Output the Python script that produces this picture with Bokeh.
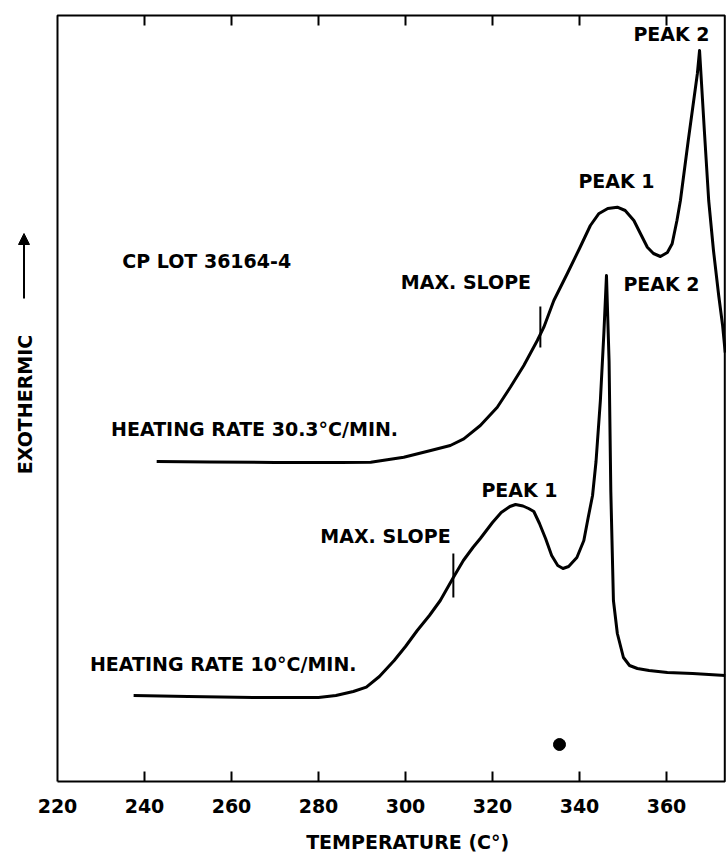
import math
from bokeh.plotting import figure
from bokeh.models import Range1d, Arrow, NormalHead
from bokeh.core.properties import value
from bokeh.embed import file_html
from bokeh.resources import INLINE

# ---------------- data (temperature in deg C, exotherm in arbitrary units) -------------
temp_30 = [242.8, 255.0, 270.0, 285.0, 292.0, 299.6, 305.8, 310.3, 313.4, 317.2, 321.1,
           324.1, 327.2, 330.3, 331.8, 334.1, 337.2, 340.0, 342.5, 344.4, 346.5, 348.7,
           350.5, 352.5, 354.0, 355.6, 357.0, 358.6, 360.2, 361.3, 362.4, 363.2, 365.0,
           367.1, 367.6, 368.7, 369.7, 370.8, 372.0, 372.9, 373.5]
signal_30 = [320, 319.5, 319, 319, 319.3, 324.3, 331, 336, 342.7, 356, 374.3,
             394.3, 416, 441, 454.3, 481, 508, 533, 556, 567.7, 573, 574.3,
             571, 561, 548, 534.3, 528, 525, 529, 537.7, 561, 581, 641,
             708, 731, 651, 581, 531, 486, 456, 429]

temp_10 = [237.5, 250.0, 265.0, 280.0, 284.0, 288.0, 291.0, 294.0, 297.4, 300.0, 302.7,
           305.5, 308.0, 311.0, 313.3, 315.5, 317.2, 320.0, 322.0, 324.0, 325.3, 327.0,
           328.3, 329.5, 330.8, 332.2, 333.6, 335.0, 336.2, 337.5, 339.4, 341.0, 342.0,
           343.0, 343.8, 344.8, 345.6, 346.2, 346.8, 347.2, 347.8, 348.7, 350.1, 351.5,
           353.3, 356.0, 360.2, 366.0, 373.5]
signal_10 = [86, 85, 84, 84, 86, 90, 94.3, 105, 121, 135, 151,
             166, 181, 204, 221, 234, 243, 259, 269, 275, 277, 275.5,
             273, 270, 258, 243, 226, 216, 213, 215, 224, 241, 264,
             286, 320, 381, 448, 506, 420, 290, 181, 148, 124, 116,
             113, 111, 109, 108, 106]

# max-slope marks (temperature, lower / upper end of the mark)
max_slope_temp = [331.0, 311.0]
max_slope_lo = [434, 184]
max_slope_hi = [475, 228]

tick_values = [220, 240, 260, 280, 300, 320, 340, 360]
tick_labels = ["220", "240", "260", "280", "300", "320", "340", "360"]

label_text = ["PEAK 2", "PEAK 1", "CP LOT 36164-4", "MAX. SLOPE", "PEAK 2",
              "HEATING RATE 30.3°C/MIN.", "PEAK 1", "MAX. SLOPE", "HEATING RATE 10°C/MIN."]
label_temp = [361.15, 348.5, 254.3, 313.9, 358.85, 265.3, 326.2, 295.4, 258.1]
label_level = [748, 601, 521, 500, 498, 353, 292, 246, 118]

x_title = "TEMPERATURE (C°)"
y_title = "EXOTHERMIC"

# ---------------- figure (frame fills the whole canvas) ----------------
FONT = "DejaVu Sans"
FS = "19px"
X_START, X_END = 206.897, 373.793
Y_START, Y_END = -75.0, 781.0
FRAME_T = (220.0, 373.4)
FRAME_Y = (0.0, 766.0)
TICK_LEN = 10

p = figure(width=726, height=856, output_backend="svg", toolbar_location=None,
           x_range=Range1d(X_START, X_END), y_range=Range1d(Y_START, Y_END),
           x_axis_location=None, y_axis_location=None,
           min_border_left=0, min_border_right=0, min_border_top=0, min_border_bottom=0)
p.outline_line_color = None
p.grid.visible = False
p.background_fill_color = "white"
p.border_fill_color = "white"

txt = dict(text_font=value(FONT), text_font_size=FS, text_font_style="bold",
           text_color="black", text_align="center", text_baseline="middle")

# frame
p.line([FRAME_T[0], FRAME_T[1], FRAME_T[1], FRAME_T[0], FRAME_T[0]],
       [FRAME_Y[0], FRAME_Y[0], FRAME_Y[1], FRAME_Y[1], FRAME_Y[0]],
       line_color="black", line_width=2)

# inward ticks along the bottom and top edges
inner = tick_values[1:]
n = len(inner)
p.segment(x0=inner + inner, y0=[FRAME_Y[0]] * n + [FRAME_Y[1]] * n,
          x1=inner + inner, y1=[FRAME_Y[0] + TICK_LEN] * n + [FRAME_Y[1] - TICK_LEN] * n,
          line_color="black", line_width=2)

# tick labels and axis title
p.text(x=tick_values, y=[-24] * len(tick_values), text=tick_labels, **txt)
p.text(x=[300.5], y=[-60], text=[x_title], **txt)

# curves
p.line(temp_30, signal_30, line_color="black", line_width=3, line_join="round")
p.line(temp_10, signal_10, line_color="black", line_width=3, line_join="round")

# max slope marks
p.segment(x0=max_slope_temp, y0=max_slope_lo, x1=max_slope_temp, y1=max_slope_hi,
          line_color="black", line_width=2)

# annotations
p.text(x=label_temp, y=label_level, text=label_text, **txt)

# y label and arrow
p.text(x=[212.6], y=[377], text=[y_title], angle=math.pi / 2, **txt)
p.add_layout(Arrow(end=NormalHead(size=11, fill_color="black", line_color="black"),
                   x_start=212.3, y_start=483, x_end=212.3, y_end=548,
                   line_color="black", line_width=2))

# ink spot
p.scatter([335.4], [37], size=12, color="black")

open("out.html", "w").write(file_html(p, INLINE))
